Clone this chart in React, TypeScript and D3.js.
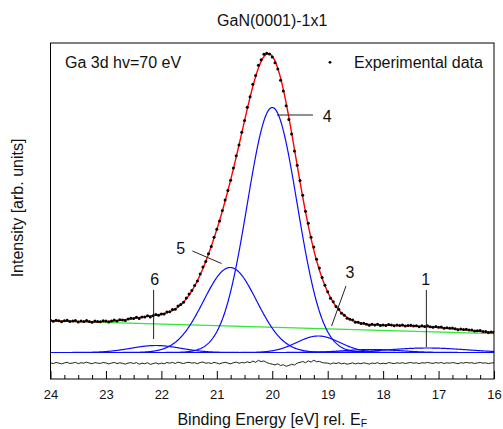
import React, { useEffect, useRef } from "react";
import * as d3 from "d3";

// measured spectrum grid: 24 eV down to 16 eV, 0.05 eV step
const eStart = 24;
const eEnd = 16;
const eStep = 0.05;

// residual (data - fit), one per grid point
const residual = [
  0.5, -0.3, 0.8, 0.2, -0.6, 0.4, 1.0, -0.2, 0.3, 0.9,
  -0.4, 0.6, 0.1, 1.1, 0.3, -0.5, 0.7, 0.2, -0.1, 0.8,
  0.4, -0.6, 0.2, 0.9, -0.3, 0.5, 0.0, -0.8, 0.3, 0.6,
  -0.2, 0.7, -0.9, 0.1, -0.4, 0.6, -1.1, -0.3, 0.5, -0.7,
  0.2, -0.5, 0.8, 0.1, 0.9, -0.2, 1.2, 0.4, -0.3, 0.7,
  1.0, 0.2, 0.6, -0.4, 0.8, 1.3, 0.1, 0.5, -0.2, 0.9,
  0.3, -0.6, 0.4, 1.0, 0.2, -0.5, 0.6, 1.2, 0.1, 0.8,
  0.4, 1.5, 0.6, 2.2, 1.0, 3.0, 1.6, 2.4, 0.7, -0.2,
  -0.9, -1.6, -0.5, -2.2, -1.4, -3.0, -2.1, -1.0, -1.8, 0.2,
  0.9, 1.8, 0.6, 2.4, 1.2, 3.1, 1.5, 2.0, 0.7, 0.3,
  0.2, -0.7, 0.4, -0.2, 0.6, -0.5, 0.1, -0.9, -0.3, 0.4,
  -0.6, 0.2, -0.4, 0.5, -0.1, -0.8, 0.3, -0.2, 0.6, -0.5,
  0.1, -0.4, 0.7, 0.2, -0.3, 0.5, 0.0, 0.6, -0.2, 0.4,
  0.8, 0.1, 0.5, -0.3, 0.6, 0.2, 0.9, 0.3, -0.1, 0.7,
  0.2, 0.8, -0.2, 0.5, 0.1, 0.7, 0.3, -0.4, 0.6, 0.2,
  0.9, 0.3, 0.6, -0.2, 0.4, 0.8, 0.1, 0.5, -0.3, 0.3,
  0.5,
];

// fitted components (Gaussian): centre eV, amplitude, sigma eV
const compNames = ["1", "2", "3", "4", "5", "6"];
const compCenters = [17.2, 18.2, 19.17, 20.0, 20.76, 22.1];
const compAmps = [4.5, 3, 16.5, 245, 85, 7];
const compSigmas = [0.7, 0.5, 0.39, 0.45, 0.48, 0.45];

// linear background at 24 eV and 16 eV, offsets of component baseline and residual
const bgAt24 = 58.2;
const bgAt16 = 45.4;
const compOffset = 26.5;
const residualOffset = 15.7;

// peak labels: text pos (eV, intensity) and leader line
const labelNames = ["4", "5", "6", "3", "1"];
const labelE = [19.01, 21.65, 22.12, 18.6, 17.23];
const labelI = [257, 125.5, 94.5, 101, 94];
const leaderE1 = [19.915, 21.44, 22.14, 18.67, 17.22];
const leaderI1 = [264, 128, 89, 93, 89];
const leaderE2 = [19.265, 20.915, 22.14, 18.93, 17.22];
const leaderI2 = [264, 115.5, 40, 53, 32];

const majorTicks = [24, 23, 22, 21, 20, 19, 18, 17, 16];

function gauss(e, i) {
  const d = e - compCenters[i];
  return compAmps[i] * Math.exp(-(d * d) / (2 * compSigmas[i] * compSigmas[i]));
}
function background(e) {
  return bgAt24 + ((bgAt16 - bgAt24) * (eStart - e)) / (eStart - eEnd);
}
function fit(e) {
  let s = background(e);
  for (let i = 0; i < compNames.length; i++) s += gauss(e, i);
  return s;
}

export default function App() {
  const ref = useRef(null);

  useEffect(() => {
    const svg = d3.select(ref.current);
    svg.selectAll("*").remove();
    const font = "'Liberation Sans', Arial, sans-serif";

    const left = 50.5, right = 494, top = 43, bottom = 379;
    const x = d3.scaleLinear().domain([eStart, eEnd]).range([left, right]);
    const y = d3.scaleLinear().domain([0, bottom - top]).range([bottom, top]);

    svg.append("rect").attr("width", 503).attr("height", 429).attr("fill", "#fff");

    svg.append("clipPath").attr("id", "plotclip")
      .append("rect").attr("x", left).attr("y", top)
      .attr("width", right - left).attr("height", bottom - top);

    const g = svg.append("g").attr("clip-path", "url(#plotclip)");

    const fine = d3.range(0, Math.round((eStart - eEnd) / 0.01) + 1).map(k => eStart - k * 0.01);
    const grid = residual.map((_, k) => eStart - k * eStep);

    const line = d3.line().x(d => x(d[0])).y(d => y(d[1]));

    // residual
    g.append("path")
      .attr("d", line(grid.map((e, k) => [e, residualOffset + residual[k]])))
      .attr("fill", "none").attr("stroke", "#222").attr("stroke-width", 1);

    // background
    g.append("path")
      .attr("d", line([[eStart, background(eStart)], [eEnd, background(eEnd)]]))
      .attr("fill", "none").attr("stroke", "#33e633").attr("stroke-width", 1.2);

    // components
    compNames.forEach((_, i) => {
      g.append("path")
        .attr("d", line(fine.map(e => [e, compOffset + gauss(e, i)])))
        .attr("fill", "none").attr("stroke", "#0a0aff").attr("stroke-width", 1.2);
    });

    // fit
    g.append("path")
      .attr("d", line(fine.map(e => [e, fit(e)])))
      .attr("fill", "none").attr("stroke", "#ff0000").attr("stroke-width", 1.4);

    // experimental points
    g.selectAll("circle.pt")
      .data(grid)
      .join("circle")
      .attr("class", "pt")
      .attr("cx", e => x(e))
      .attr("cy", (e, k) => y(fit(e) + residual[k]))
      .attr("r", 1.5)
      .attr("fill", "#000");

    // frame
    svg.append("rect")
      .attr("x", left).attr("y", top)
      .attr("width", right - left).attr("height", bottom - top)
      .attr("fill", "none").attr("stroke", "#000").attr("stroke-width", 1);

    // x axis
    const minor = d3.range(0, 33).map(k => eStart - k * 0.25).filter(v => !majorTicks.includes(v));
    svg.append("g")
      .attr("transform", `translate(0,${bottom})`)
      .call(d3.axisBottom(x).tickValues(minor).tickSize(-4).tickSizeOuter(0).tickFormat(() => ""))
      .call(a => a.select(".domain").remove());
    const ax = svg.append("g")
      .attr("transform", `translate(0,${bottom})`)
      .call(d3.axisBottom(x).tickValues(majorTicks).tickSize(-8).tickSizeOuter(0).tickPadding(10.5).tickFormat(d3.format("d")));
    ax.select(".domain").remove();
    ax.selectAll("text").attr("font-family", font).attr("font-size", 13).attr("fill", "#111");
    svg.selectAll(".tick line").attr("stroke", "#000");

    // labels of components
    labelNames.forEach((t, i) => {
      svg.append("line")
        .attr("x1", x(leaderE1[i])).attr("y1", y(leaderI1[i]))
        .attr("x2", x(leaderE2[i])).attr("y2", y(leaderI2[i]))
        .attr("stroke", "#222").attr("stroke-width", 1);
      svg.append("text")
        .attr("x", x(labelE[i])).attr("y", y(labelI[i]))
        .attr("text-anchor", "middle")
        .attr("font-family", font).attr("font-size", 16).attr("fill", "#111")
        .text(t);
    });

    // texts
    svg.append("text")
      .attr("x", (left + right) / 2).attr("y", 26)
      .attr("text-anchor", "middle")
      .attr("font-family", font).attr("font-size", 16).attr("fill", "#111")
      .text("GaN(0001)-1x1");

    svg.append("text")
      .attr("x", 65).attr("y", 68)
      .attr("font-family", font).attr("font-size", 16).attr("fill", "#111")
      .text("Ga 3d hv=70 eV");

    svg.append("circle").attr("cx", 330).attr("cy", 62.3).attr("r", 1.4).attr("fill", "#000");
    svg.append("text")
      .attr("x", 354).attr("y", 68)
      .attr("font-family", font).attr("font-size", 16).attr("fill", "#111")
      .text("Experimental data");

    const xl = svg.append("text")
      .attr("x", (left + right) / 2).attr("y", 424.5)
      .attr("text-anchor", "middle")
      .attr("font-family", font).attr("font-size", 16).attr("fill", "#111");
    xl.append("tspan").text("Binding Energy [eV] rel. E");
    xl.append("tspan").attr("dy", 2.5).attr("font-size", 10.5).text("F");

    svg.append("text")
      .attr("transform", "translate(23,208) rotate(-90)")
      .attr("text-anchor", "middle")
      .attr("font-family", font).attr("font-size", 16).attr("fill", "#111")
      .text("Intensity [arb. units]");
  }, []);

  return (
    <svg ref={ref} width={503} height={429}
      style={{ position: "absolute", left: 0, top: 0, display: "block" }} />
  );
}
